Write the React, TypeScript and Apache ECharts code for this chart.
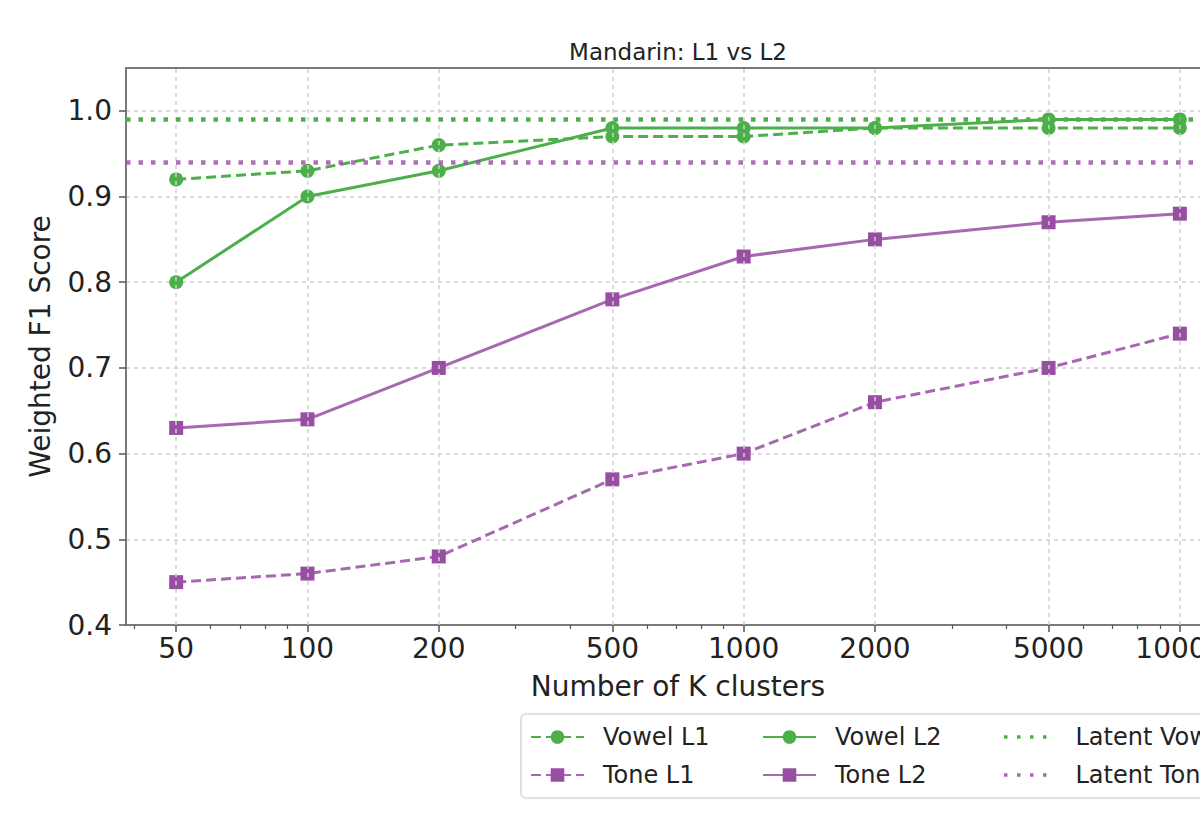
import { useEffect, useRef } from 'react'
import * as echarts from 'echarts'

// numero de clusters K (eixo X logaritmico)
const kValues = [50, 100, 200, 500, 1000, 2000, 5000, 10000]
const vowelL1 = [0.92, 0.93, 0.96, 0.97, 0.97, 0.98, 0.98, 0.98]
const vowelL2 = [0.8, 0.9, 0.93, 0.98, 0.98, 0.98, 0.99, 0.99]
const toneL1 = [0.45, 0.46, 0.48, 0.57, 0.6, 0.66, 0.7, 0.74]
const toneL2 = [0.63, 0.64, 0.7, 0.78, 0.83, 0.85, 0.87, 0.88]
const latentVowel = 0.99
const latentTone = 0.94

const xTicks = [50, 100, 200, 500, 1000, 2000, 5000, 10000]
const xMinorTicks = [40, 60, 70, 80, 90, 300, 400, 600, 700, 800, 900, 3000, 4000, 6000, 7000, 8000, 9000]
const yTicks = [0.4, 0.5, 0.6, 0.7, 0.8, 0.9, 1.0]

const GREEN = '#4daf4a'
const PURPLE = '#984ea3'
const FONT = '"DejaVu Sans", sans-serif'
const X_MIN = 38.37
const X_MAX = 13030

const pares = (ys: number[]) => kValues.map((k, i) => [k, ys[i]])

// icone pontilhado da legenda (linhas "latentes" nao tem marcador)
const dotsIcon = 'path://M0 0h3.5v3.5h-3.5zM13 0h3.5v3.5h-3.5zM26 0h3.5v3.5h-3.5zM39 0h3.5v3.5h-3.5z'

// o topo da legenda e o topo da caixa do texto (24px), entao centraliza pela linha
function legendItem(name: string, left: number, rowY: number, latent: boolean) {
  return {
    data: [name],
    left,
    top: rowY - 12,
    padding: 0,
    selectedMode: false,
    itemWidth: latent ? 42.5 : 53,
    itemHeight: latent ? 3.5 : 17,
    icon: latent ? dotsIcon : undefined,
    textStyle: { fontFamily: FONT, fontSize: 24, color: '#222', padding: [0, 0, 0, latent ? 24 : 14] },
  }
}

export default function App() {
  const ref = useRef<HTMLDivElement>(null)

  useEffect(() => {
    if (!ref.current) return
    const chart = echarts.init(ref.current, null, { renderer: 'svg' })
    const dashed = [10, 5]
    const dotted = [4.5, 8]

    chart.setOption({
      animation: false,
      backgroundColor: '#fff',
      textStyle: { fontFamily: FONT },
      grid: { left: 126, right: 30, top: 68, bottom: 211, show: true, borderColor: '#7a7a7a', borderWidth: 2, backgroundColor: 'transparent' },
      graphic: [
        {
          type: 'text',
          x: 678,
          y: 52,
          style: { text: 'Mandarin: L1 vs L2', font: `23px ${FONT}`, fill: '#222', textAlign: 'center', textVerticalAlign: 'middle' },
        },
        {
          type: 'rect',
          shape: { x: 521, y: 714, width: 760, height: 84, r: 5 },
          style: { fill: '#fff', stroke: '#d6d6d6', lineWidth: 1.5 },
          z: 0,
        },
      ],
      legend: [
        legendItem('Vowel L1', 530, 737, false),
        legendItem('Tone L1', 530, 775, false),
        legendItem('Vowel L2', 762, 737, false),
        legendItem('Tone L2', 762, 775, false),
        legendItem('Latent Vowel', 1004, 737, true),
        legendItem('Latent Tone', 1004, 775, true),
      ],
      xAxis: [
        {
          type: 'log',
          logBase: 10,
          min: X_MIN,
          max: X_MAX,
          name: 'Number of K clusters',
          nameLocation: 'middle',
          nameGap: 47,
          nameTextStyle: { fontSize: 28, color: '#222', fontFamily: FONT },
          axisLine: { show: true, onZero: false, lineStyle: { color: '#7a7a7a', width: 2 } },
          axisTick: { show: true, customValues: xTicks, length: 7, lineStyle: { color: '#555', width: 1.5 } },
          axisLabel: { customValues: xTicks, fontSize: 28, color: '#222', margin: 9, fontFamily: FONT, formatter: (v: number) => String(v) },
          splitLine: { show: false },
          minorTick: { show: false },
        },
        {
          type: 'log',
          logBase: 10,
          min: X_MIN,
          max: X_MAX,
          position: 'bottom',
          axisLine: { show: false, onZero: false },
          axisTick: { show: true, customValues: xMinorTicks, length: 4, lineStyle: { color: '#555', width: 1.2 } },
          axisLabel: { show: false },
          splitLine: { show: false },
        },
      ],
      yAxis: {
        type: 'value',
        min: 0.4,
        max: 1.05,
        interval: 0.1,
        name: 'Weighted F1 Score',
        nameLocation: 'middle',
        nameGap: 72,
        nameTextStyle: { fontSize: 28, color: '#222', fontFamily: FONT },
        axisLine: { show: true, lineStyle: { color: '#7a7a7a', width: 2 } },
        axisTick: { show: true, customValues: yTicks, length: 7, lineStyle: { color: '#555', width: 1.5 } },
        axisLabel: { customValues: yTicks, fontSize: 28, color: '#222', margin: 14, fontFamily: FONT, formatter: (v: number) => v.toFixed(1) },
        splitLine: { show: true, lineStyle: { color: '#cfcfcf', width: 1.5, type: [4, 4] } },
      },
      series: [
        {
          name: 'grade-x',
          type: 'line',
          data: [],
          z: 1,
          silent: true,
          markLine: {
            silent: true,
            symbol: 'none',
            label: { show: false },
            lineStyle: { color: '#cfcfcf', width: 1.5, type: [4, 4] },
            data: xTicks.map((k) => ({ xAxis: k })),
          },
        },
        {
          name: 'Latent Vowel',
          type: 'line',
          data: [],
          z: 2,
          itemStyle: { color: GREEN },
          lineStyle: { color: GREEN },
          markLine: {
            silent: true,
            symbol: 'none',
            label: { show: false },
            lineStyle: { color: GREEN, width: 4.5, type: dotted },
            data: [{ yAxis: latentVowel }],
          },
        },
        {
          name: 'Latent Tone',
          type: 'line',
          data: [],
          z: 2,
          itemStyle: { color: PURPLE, opacity: 0.85 },
          lineStyle: { color: PURPLE },
          markLine: {
            silent: true,
            symbol: 'none',
            label: { show: false },
            lineStyle: { color: PURPLE, width: 4.5, type: dotted, opacity: 0.8 },
            data: [{ yAxis: latentTone }],
          },
        },
        {
          name: 'Vowel L1',
          type: 'line',
          data: pares(vowelL1),
          z: 3,
          symbol: 'circle',
          symbolSize: 14,
          itemStyle: { color: GREEN },
          lineStyle: { color: GREEN, width: 3, type: dashed },
        },
        {
          name: 'Vowel L2',
          type: 'line',
          data: pares(vowelL2),
          z: 3,
          symbol: 'circle',
          symbolSize: 14,
          itemStyle: { color: GREEN },
          lineStyle: { color: GREEN, width: 3 },
        },
        {
          name: 'Tone L1',
          type: 'line',
          data: pares(toneL1),
          z: 3,
          symbol: 'rect',
          symbolSize: 14,
          itemStyle: { color: PURPLE },
          lineStyle: { color: PURPLE, width: 3, type: dashed, opacity: 0.85 },
        },
        {
          name: 'Tone L2',
          type: 'line',
          data: pares(toneL2),
          z: 3,
          symbol: 'rect',
          symbolSize: 14,
          itemStyle: { color: PURPLE },
          lineStyle: { color: PURPLE, width: 3, opacity: 0.85 },
        },
      ],
    })

    return () => chart.dispose()
  }, [])

  return (
    <div style={{ position: 'fixed', left: 0, top: 0, width: 1200, height: 836, overflow: 'hidden', background: '#fff' }}>
      <div ref={ref} style={{ width: 1260, height: 836 }} />
    </div>
  )
}
